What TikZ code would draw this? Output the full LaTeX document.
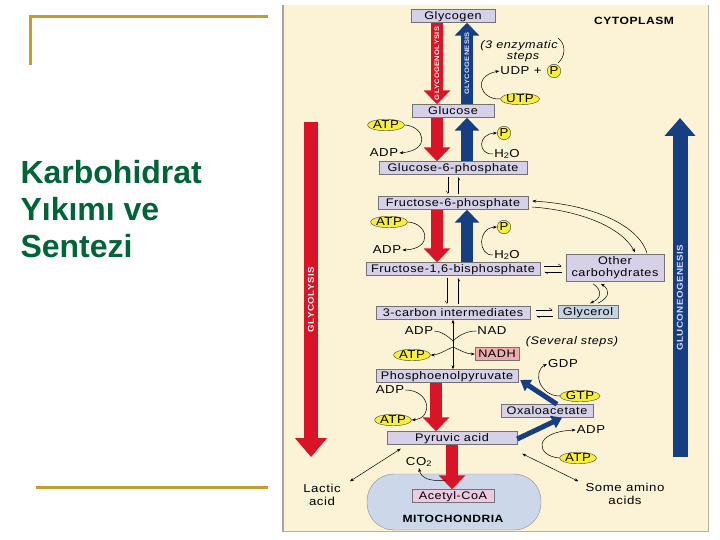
\documentclass[tikz,border=0pt]{standalone}
\usepackage{fontspec}
\setmainfont{Liberation Sans}
\newfontfamily\dfont[FakeStretch=1.15, LetterSpace=5]{Liberation Sans}
\usepackage{tikz}
\usepackage{xcolor}
\usetikzlibrary{shapes.geometric, arrows.meta, positioning, calc}
\definecolor{cPanel}{RGB}{252,242,214}
\definecolor{cGold}{RGB}{194,156,44}
\definecolor{cTitle}{RGB}{0,100,56}
\definecolor{cRed}{RGB}{216,20,38}
\definecolor{cBlue}{RGB}{22,62,130}
\definecolor{cBox}{RGB}{214,208,232}
\definecolor{cYel}{RGB}{248,238,62}
\definecolor{cPink}{RGB}{240,172,172}
\definecolor{cCoa}{RGB}{236,202,226}
\definecolor{cMito}{RGB}{204,216,234}
\definecolor{cGlyc}{RGB}{196,212,226}
\tikzset{
	met/.style   ={rectangle, draw=black!55, fill=cBox, minimum height=13pt, inner sep=1pt, text height=7.6pt, text depth=0.6pt, align=center, font=\dfont\fontsize{11}{12}\selectfont},
	cof/.style   ={ellipse, draw=black!75, fill=cYel, minimum width=37pt, minimum height=11.5pt, inner sep=0pt, text height=7.4pt, text depth=0pt},
	pc/.style    ={circle, draw=black!75, fill=cYel, minimum size=13.5pt, inner sep=0pt, text height=7.4pt, text depth=0pt},
	txt/.style   ={inner sep=1pt, align=center},
	hdr/.style   ={font=\dfont\bfseries\fontsize{10.5}{11}\selectfont},
	ital/.style  ={font=\dfont\itshape\fontsize{11}{12}\selectfont},
	% thick pathway arrows
	redarr/.style ={draw=cRed, line width=12pt, -{Triangle[length=14pt, width=26pt]}},
	bluarr/.style ={draw=cBlue, line width=12pt, -{Triangle[length=13pt, width=24pt]}},
	bigred/.style ={draw=cRed, line width=14pt, -{Triangle[length=19pt, width=31pt]}},
	bigblue/.style={draw=cBlue, line width=15pt, -{Triangle[length=18pt, width=30pt]}},
	midblue/.style={draw=cBlue, line width=5pt, -{Triangle[length=10pt, width=13pt]}},
	arrlbl/.style ={rotate=90, inner sep=0pt, font=\dfont\bfseries\fontsize{8.5}{8.5}\selectfont},
	% thin connectors
	cofarr/.style={-{Stealth[length=4pt, width=3pt]}, line width=0.5pt},
	dblarr/.style={{Stealth[length=4pt, width=3pt]}-{Stealth[length=4pt, width=3pt]}, line width=0.5pt},
	harp/.style  ={-{Straight Barb[harpoon, length=3pt, width=4pt]}, line width=0.4pt},
	harpv/.style ={-{Straight Barb[harpoon, swap, length=3pt, width=4pt]}, line width=0.4pt},
}
\begin{document}
\begin{tikzpicture}[x=1pt, y=-1pt, font=\dfont\fontsize{11.5}{12.5}\selectfont]
	\useasboundingbox (0,0) rectangle (720,540);
	% slide frame and title
	\draw[cGold, line width=3pt] (30,65) -- (30,17) -- (268,17);
	\draw[cGold, line width=3pt] (36,487) -- (268,487);
	\node[anchor=west, align=left, text=cTitle, font=\bfseries\fontsize{32}{37}\selectfont] (ttl) at (17,209) {Karbohidrat\\Yıkımı ve\\Sentezi};
	% figure panel
	\fill[cPanel] (282,5) rectangle (708,531);
	\draw[black!30, line width=0.6pt] (708,5) -- (708,531) -- (282,531);
	\draw[black!35, line width=2.5pt] (283,5) -- (283,532);
	\node[hdr] (cyto) at (634,21) {CYTOPLASM};
	\node[draw=black!45, fill=cMito, rounded corners=27pt, minimum width=174pt, minimum height=56pt] (mito) at (454,502) {};
	\node[hdr] (mitolbl) at (453,519) {MITOCHONDRIA};
	% metabolites
	\node[met, minimum width=84pt] (glyc) at (453,16) {Glycogen};
	\node[met, minimum width=82pt] (glc) at (453,111) {Glucose};
	\node[met, minimum width=148pt] (g6p) at (453,168) {Glucose-6-phosphate};
	\node[met, minimum width=150pt] (f6p) at (453,203) {Fructose-6-phosphate};
	\node[met, minimum width=174pt] (fbp) at (453,269) {Fructose-1,6-bisphosphate};
	\node[met, minimum width=154pt] (c3) at (453,313) {3-carbon intermediates};
	\node[met, minimum width=142pt] (pep) at (447,376) {Phosphoenolpyruvate};
	\node[met, minimum width=130pt] (pyr) at (452,438) {Pyruvic acid};
	\node[met, minimum width=92pt] (oaa) at (547,411) {Oxaloacetate};
	\node[met, minimum width=98pt, minimum height=27pt, text height=, text depth=] (other) at (615,268) {Other\\carbohydrates};
	\node[met, fill=cGlyc, minimum width=60pt] (glycerol) at (588,312) {Glycerol};
	\node[met, fill=cPink, minimum width=44pt] (nadh) at (497,354) {NADH};
	\node[met, fill=cCoa, minimum width=82pt] (acoa) at (453,496) {Acetyl-CoA};
	% cofactors and side products
	\node[txt, ital] (enz) at (519,46) {(3 enzymatic};
	\node[txt, ital] (steps) at (523,57) {steps};
	\node[txt] (udp) at (521,71) {UDP +};
	\node[pc] (pudp) at (554,71) {P};
	\node[cof] (utp) at (520,99) {UTP};
	\node[cof] (atp1) at (386,125) {ATP};
	\node[txt] (adp1) at (384,153) {ADP};
	\node[pc] (p1) at (504,133) {P};
	\node[txt] (h2o1) at (507,154) {H\textsubscript{2}O};
	\node[cof] (atp2) at (389,222) {ATP};
	\node[txt] (adp2) at (387,250) {ADP};
	\node[pc] (p2) at (504,227) {P};
	\node[txt] (h2o2) at (507,255) {H\textsubscript{2}O};
	\node[txt] (adp3) at (419,331) {ADP};
	\node[txt] (nad) at (492,331) {NAD};
	\node[cof] (atp3) at (412,355) {ATP};
	\node[txt, ital] (sev) at (572,342) {(Several steps)};
	\node[txt] (adp4) at (390,390) {ADP};
	\node[cof] (atp4) at (393,420) {ATP};
	\node[txt] (gdp) at (563,364) {GDP};
	\node[cof] (gtp) at (580,396) {GTP};
	\node[txt] (adp5) at (591,430) {ADP};
	\node[cof] (atp5) at (578,458) {ATP};
	\node[txt] (co2) at (419,462) {CO\textsubscript{2}};
	\node[txt] (lactic) at (322,495) {Lactic\\acid};
	\node[txt] (amino) at (625,494) {Some amino\\acids};
	% long pathway arrows
	\coordinate (glyTop) at (311,122);
	\coordinate (glyEnd) at (311,457);
	\coordinate (gngBot) at (680,457);
	\coordinate (gngTop) at (680,118);
	\draw[bigred] (glyTop) -- (glyEnd) node[arrlbl, text=white!80!pink, pos=0.53] {GLYCOLYSIS};
	\draw[bigblue] (gngBot) -- (gngTop) node[arrlbl, text=white!85!blue, pos=0.47] {GLUCONEOGENESIS};
	% glycogen <-> glucose
	\draw[redarr] ([xshift=-16pt]glyc.south) -- ([xshift=-16pt]glc.north) node[arrlbl, text=white!80!pink, midway, font=\dfont\bfseries\fontsize{6.5}{6.5}\selectfont] {GLYCOGENOLYSIS};
	\draw[bluarr] ([xshift=14pt]glc.north) -- ([xshift=14pt]glyc.south) node[arrlbl, text=white!85!blue, midway, font=\dfont\bfseries\fontsize{6.5}{6.5}\selectfont] {GLYCOGENESIS};
	\draw[cofarr] (utp.west) .. controls (480,100) and (472,76) .. (udp.west);
	\draw[line width=0.5pt] (558,38) .. controls (566,44) and (566,56) .. (558,63);
	% glucose <-> glucose-6-phosphate
	\draw[redarr] ([xshift=-16pt]glc.south) -- ([xshift=-16pt]g6p.north);
	\draw[bluarr] ([xshift=14pt]g6p.north) -- ([xshift=14pt]glc.south);
	\draw[cofarr] (atp1.east) .. controls (424,126) and (432,150) .. (adp1.east);
	\draw[cofarr] (h2o1.west) .. controls (478,155) and (477,134) .. (p1.west);
	\draw[harpv] ($(g6p.south)+(-5,2)$) -- ($(f6p.north)+(-5,-2)$);
	\draw[harpv] ($(f6p.north)+(5,-2)$) -- ($(g6p.south)+(5,2)$);
	% fructose-6-phosphate <-> fructose-1,6-bisphosphate
	\draw[redarr] ([xshift=-16pt]f6p.south) -- ([xshift=-16pt]fbp.north);
	\draw[bluarr] ([xshift=14pt]fbp.north) -- ([xshift=14pt]f6p.south);
	\draw[cofarr] (atp2.east) .. controls (428,223) and (434,249) .. (adp2.east);
	\draw[cofarr] (h2o2.west) .. controls (478,256) and (477,228) .. (p2.west);
	\draw[cofarr] ($(other.north)+(32,-1)$) .. controls (640,228) and (598,205) .. ($(f6p.east)+(4,-2)$);
	\draw[cofarr] ($(f6p.east)+(4,4)$) .. controls (575,210) and (620,225) .. ($(other.north)+(20,-2)$);
	\draw[harp] ($(fbp.east)+(4,-3)$) -- ($(other.west|-fbp.east)+(-4,-3)$);
	\draw[harp] ($(other.west|-fbp.east)+(-4,3)$) -- ($(fbp.east)+(4,3)$);
	\draw[harpv] ($(fbp.south)+(-6,2)$) -- ($(c3.north)+(-6,-2)$);
	\draw[harpv] ($(c3.north)+(5,-2)$) -- ($(fbp.south)+(5,2)$);
	% glycerol branch
	\draw[cofarr] ($(other.south)+(-22,2)$) .. controls (602,290) and (602,298) .. ($(glycerol.north)+(2,-2)$);
	\draw[cofarr] ($(glycerol.north)+(10,-2)$) .. controls (610,297) and (610,290) .. ($(other.south)+(-14,2)$);
	\draw[harp] ($(c3.east)+(6,-3)$) -- ($(glycerol.west|-c3.east)+(-5,-3)$);
	\draw[harp] ($(glycerol.west|-c3.east)+(-5,3)$) -- ($(c3.east)+(6,3)$);
	% 3-carbon intermediates <-> phosphoenolpyruvate
	\coordinate (jin) at (453,341);
	\coordinate (jout) at (453,347);
	\draw[dblarr] (c3.south) -- (c3.south |- pep.north);
	\draw[line width=0.5pt] (adp3.east) .. controls (440,331) and (448,336) .. (jin);
	\draw[line width=0.5pt] (nad.west) .. controls (466,331) and (458,336) .. (jin);
	\draw[cofarr] (jout) .. controls (446,350) and (438,355) .. (atp3.east);
	\draw[cofarr] (jout) .. controls (460,350) and (466,354) .. (nadh.west);
	% phosphoenolpyruvate <-> pyruvic acid
	\draw[redarr] ([xshift=-11pt]pep.south) -- ([xshift=-11pt]pep.south |- pyr.north);
	\draw[cofarr] (adp4.east) .. controls (430,390) and (434,418) .. (atp4.east);
	\draw[midblue] ($(pyr.east)+(0,1)$) -- ($(oaa.south)+(15,0)$);
	\draw[midblue] ($(oaa.north)+(10,0)$) -- ($(pep.east)+(2,4)$);
	\draw[cofarr] (gtp.west) .. controls (540,396) and (532,372) .. (gdp.west);
	\draw[cofarr] (atp5.west) .. controls (536,456) and (532,432) .. (adp5.west);
	% pyruvic acid -> acetyl-CoA
	\coordinate (co2src) at (446,480);
	\draw[redarr] (pyr.south) -- (pyr.south |- acoa.north);
	\draw[cofarr] (co2src) .. controls (430,482) and (421,478) .. (co2.south);
	\draw[dblarr] ($(lactic.north east)+(8,-2)$) -- ($(pyr.south west)+(14,4)$);
	\draw[dblarr] ($(pyr.south east)+(5,9)$) -- ($(amino.north west)+(-6,-1)$);
\end{tikzpicture}
\end{document}
